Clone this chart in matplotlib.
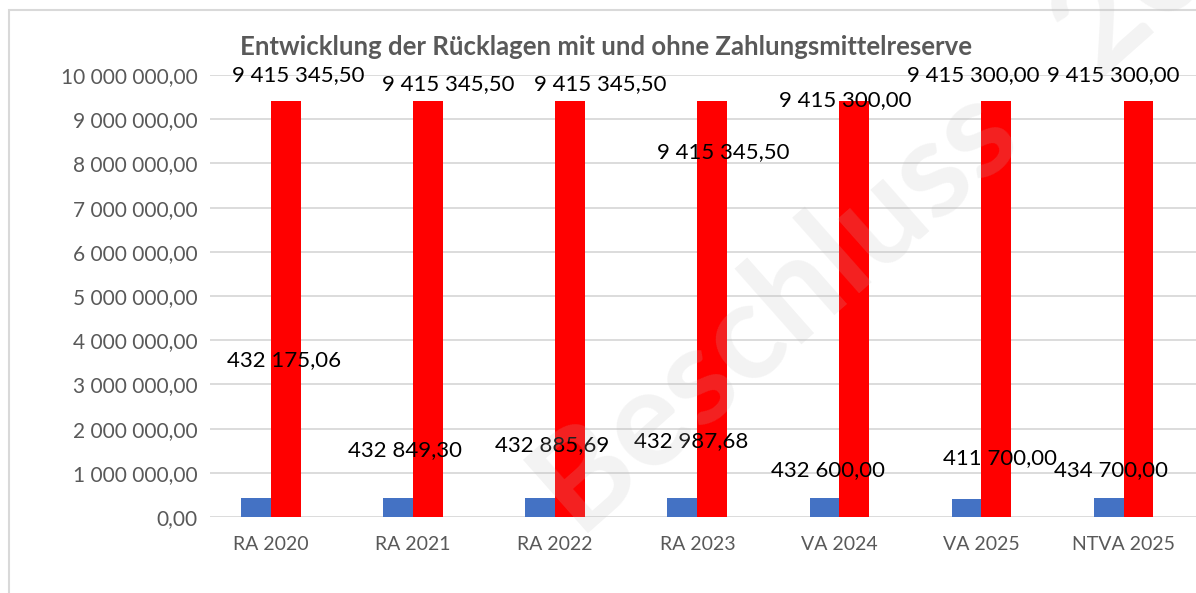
import numpy as np
import matplotlib.pyplot as plt
from matplotlib.patches import Rectangle

kategorien = ["RA 2020", "RA 2021", "RA 2022", "RA 2023", "VA 2024", "VA 2025", "NTVA 2025"]
ohne_reserve = [432175.06, 432849.30, 432885.69, 432987.68, 432600.00, 411700.00, 434700.00]
mit_reserve = [9415345.50, 9415345.50, 9415345.50, 9415345.50, 9415300.00, 9415300.00, 9415300.00]
y_ticks = [0, 1e6, 2e6, 3e6, 4e6, 5e6, 6e6, 7e6, 8e6, 9e6, 1e7]

# Lage der Datenbeschriftungen (manuell verschoben wie im Original)
rot_dx = [0.19, 0.25, 0.32, 0.18, 0.04, -0.06, -0.07]
rot_y = [10.0e6, 9.8e6, 9.8e6, 8.26e6, 9.43e6, 10.0e6, 10.0e6]
blau_dx = [0.09, -0.06, -0.02, -0.04, -0.08, 0.13, -0.09]
blau_y = [3.55e6, 1.52e6, 1.63e6, 1.72e6, 1.06e6, 1.33e6, 1.06e6]


def fmt(v):
    s = f"{v:,.2f}"
    return s.replace(",", " ").replace(".", ",")


plt.rcParams['font.family'] = ['Lato', 'DejaVu Sans']

W, H = 1196, 593
fig = plt.figure(figsize=(W / 100, H / 100), dpi=100)
fig.patches.append(Rectangle((9 / W, -0.1), 1.2, 1 - 10 / H + 0.1, transform=fig.transFigure,
                             fill=False, edgecolor="#d9d9d9", linewidth=1.5))

ax = fig.add_axes([210 / W, 76 / H, 986 / W, 442 / H])
x = np.arange(len(kategorien))
bw = 0.21
ax.bar(x - bw / 2, ohne_reserve, bw, color="#4472C4", zorder=2)
ax.bar(x + bw / 2, mit_reserve, bw, color="#FF0000", zorder=2)

for i in range(len(kategorien)):
    ax.text(x[i] + rot_dx[i], rot_y[i], fmt(mit_reserve[i]), ha="center", va="center",
            fontsize=16, color="black", clip_on=False, zorder=3)
    ax.text(x[i] + blau_dx[i], blau_y[i], fmt(ohne_reserve[i]), ha="center", va="center",
            fontsize=16, color="black", clip_on=False, zorder=3)

ax.set_xlim(-0.43, 6.51)
ax.set_ylim(0, 1e7)
ax.set_yticks(y_ticks)
ax.set_yticklabels([fmt(v) for v in y_ticks])
ax.set_xticks(x)
ax.set_xticklabels(kategorien)
ax.tick_params(axis="both", length=0, colors="#595959")
ax.tick_params(axis="y", pad=9, labelsize=15)
ax.tick_params(axis="x", pad=14, labelsize=14)
ax.grid(axis="y", color="#d9d9d9", linewidth=1.3, zorder=0)
for s in ax.spines.values():
    s.set_visible(False)

fig.text(606 / W, 1 - 47 / H, "Entwicklung der Rücklagen mit und ohne Zahlungsmittelreserve",
         ha="center", va="center", fontsize=18.5, fontweight="bold", color="#595959")

# Wasserzeichen
fig.text(580 / W, 1 - 540 / H, "Beschluss   2025", ha="left", va="baseline", rotation=41.5,
         rotation_mode="anchor", fontsize=98, fontweight="bold", color="#bebebe",
         alpha=0.18, zorder=10)

fig.savefig("out.png", dpi=100)
